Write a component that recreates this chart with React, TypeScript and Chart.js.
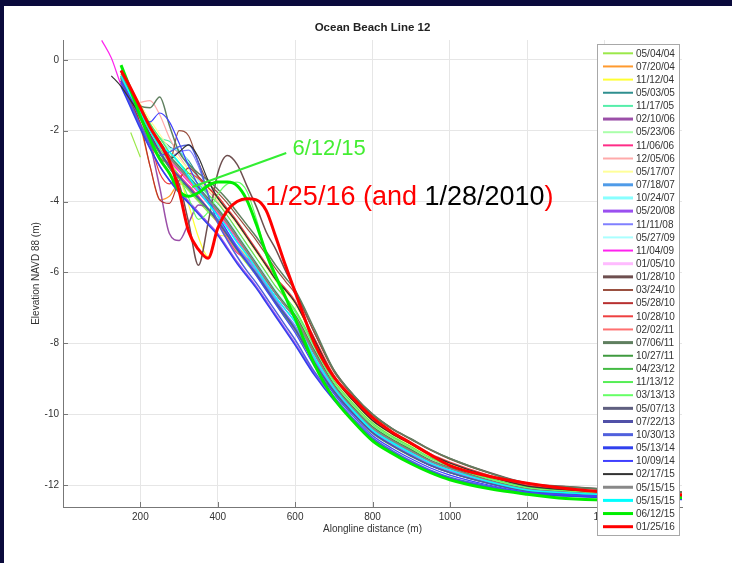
import React, { useEffect, useRef } from "react";
import { Chart, registerables } from "chart.js";
Chart.register(...registerables);

// ---------- data ----------
const distance = [100, 125, 150, 175, 200, 225, 250, 275, 300, 325, 350, 375, 400, 425, 450, 475, 500, 525, 550, 575, 600, 650, 700, 750, 800, 850, 900, 950, 1000, 1100, 1200, 1300, 1400, 1500, 1600];

const surveyDates = ["05/04/04", "07/20/04", "11/12/04", "05/03/05", "11/17/05", "02/10/06", "05/23/06", "11/06/06", "12/05/06", "05/17/07", "07/18/07", "10/24/07", "05/20/08", "11/11/08", "05/27/09", "11/04/09", "01/05/10", "01/28/10", "03/24/10", "05/28/10", "10/28/10", "02/02/11", "07/06/11", "10/27/11", "04/23/12", "11/13/12", "03/13/13", "05/07/13", "07/22/13", "10/30/13", "05/13/14", "10/09/14", "02/17/15", "05/15/15", "05/15/15", "06/12/15", "01/25/16"];

const e050404 = [null, null, null, -2.05, -2.75, null, null, null, -3.4, -3.7, -4.0, -4.3, -4.6, -5.0, -5.4, -5.75, -6.1, -6.5, -6.9, -7.3, -7.65, -8.6, -9.4, -10.0, -10.55, -10.9, -11.2, -11.45, -11.65, -11.95, -12.18, -12.26, -12.3, -12.34, -12.36];
const e072004 = [null, null, -0.6, -1.2, -1.9, -3.0, -3.95, -3.85, -3.5, -3.55, -3.9, -4.2, -4.5, -4.9, -5.3, -5.65, -6.0, -6.4, -6.8, -7.2, -7.55, -8.5, -9.3, -9.95, -10.5, -10.85, -11.15, -11.42, -11.62, -11.93, -12.15, -12.24, -12.29, -12.33, -12.35];
const e111204 = [null, null, -0.45, -0.95, -1.45, -1.95, -2.4, -2.85, -3.3, -4.1, -5.0, -5.55, -4.95, -5.0, -5.25, -5.55, -5.85, -6.2, -6.55, -6.9, -7.2, -8.1, -9.0, -9.65, -10.2, -10.58, -10.88, -11.17, -11.4, -11.76, -12.03, -12.13, -12.19, -12.24, -12.27];
const e050305 = [null, null, -0.5, -1.0, -1.5, -1.9, -2.2, -2.45, -2.6, -2.85, -3.3, -3.8, -4.2, -4.55, -4.95, -5.35, -5.75, -6.15, -6.55, -6.9, -7.25, -8.25, -9.15, -9.8, -10.35, -10.7, -11.0, -11.3, -11.5, -11.85, -12.1, -12.2, -12.25, -12.3, -12.32];
const e111705 = [null, null, -0.4, -0.9, -1.35, -1.8, -2.2, -2.3, -2.6, -3.0, -3.3, -3.6, -3.9, -4.25, -4.6, -5.0, -5.4, -5.8, -6.2, -6.5, -6.85, -7.9, -8.95, -9.62, -10.18, -10.55, -10.85, -11.15, -11.38, -11.75, -12.03, -12.13, -12.19, -12.24, -12.27];
const e021006 = [null, null, -0.6, -1.2, -1.8, -2.4, -3.6, -4.9, -5.1, -4.6, -4.1, -4.2, -4.55, -4.95, -5.35, -5.7, -6.05, -6.45, -6.85, -7.25, -7.6, -8.55, -9.35, -9.98, -10.52, -10.88, -11.18, -11.45, -11.65, -11.95, -12.17, -12.25, -12.3, -12.34, -12.36];
const e052306 = [null, null, -0.45, -0.95, -1.45, -1.95, -2.35, -2.75, -3.05, -3.35, -3.65, -3.95, -4.25, -4.6, -5.0, -5.4, -5.8, -6.2, -6.6, -6.95, -7.3, -8.3, -9.2, -9.85, -10.4, -10.75, -11.05, -11.33, -11.53, -11.88, -12.12, -12.21, -12.26, -12.31, -12.33];
const e110606 = [null, null, -0.55, -1.1, -1.65, -2.2, -2.6, -2.95, -3.25, -3.55, -3.85, -4.2, -4.6, -5.05, -5.45, -5.6, -5.9, -6.4, -6.8, -7.2, -7.55, -8.5, -9.3, -9.95, -10.5, -10.86, -11.16, -11.43, -11.63, -11.94, -12.16, -12.24, -12.29, -12.33, -12.35];
const e120506 = [null, null, null, null, -1.2, -1.15, -1.55, -2.2, -2.7, -3.1, -3.4, -3.7, -4.0, -4.4, -4.8, -5.2, -5.6, -6.0, -6.4, -6.75, -7.1, -8.1, -9.05, -9.72, -10.28, -10.64, -10.95, -11.25, -11.46, -11.82, -12.07, -12.17, -12.23, -12.28, -12.3];
const e051707 = [null, null, -0.35, -0.8, -1.25, -1.7, -2.1, -2.5, -2.8, -3.1, -3.4, -3.65, -3.95, -4.3, -4.65, -5.05, -5.45, -5.85, -6.25, -6.55, -6.9, -7.95, -8.98, -9.65, -10.2, -10.57, -10.87, -11.17, -11.4, -11.77, -12.04, -12.14, -12.2, -12.25, -12.28];
const e071807 = [null, null, -0.5, -1.05, -1.6, -2.15, -2.6, -3.0, -3.3, -3.6, -3.9, -4.2, -4.5, -4.9, -5.3, -5.65, -6.0, -6.4, -6.8, -7.2, -7.55, -8.5, -9.3, -9.95, -10.5, -10.86, -11.16, -11.43, -11.63, -11.94, -12.16, -12.24, -12.29, -12.33, -12.35];
const e102407 = [null, null, -0.4, -0.9, -1.4, -1.85, -2.2, -2.5, -2.55, -2.9, -3.4, -3.85, -4.2, -4.55, -4.95, -5.35, -5.75, -6.15, -6.55, -6.9, -7.2, -8.2, -9.15, -9.8, -10.35, -10.7, -11.0, -11.3, -11.5, -11.85, -12.1, -12.2, -12.25, -12.3, -12.32];
const e052008 = [null, null, -0.7, -1.3, -1.9, -2.5, -3.0, -3.4, -3.7, -4.0, -4.3, -4.6, -4.9, -5.3, -5.7, -6.05, -6.4, -6.8, -7.2, -7.6, -8.0, -8.85, -9.55, -10.15, -10.7, -11.05, -11.35, -11.6, -11.8, -12.05, -12.24, -12.3, -12.35, -12.38, -12.4];
const e111108 = [null, null, -0.55, -1.1, -1.65, -2.15, -2.55, -2.75, -2.6, -2.55, -3.0, -3.8, -4.4, -4.85, -5.25, -5.6, -5.95, -6.35, -6.75, -7.15, -7.5, -8.45, -9.28, -9.92, -10.46, -10.83, -11.13, -11.4, -11.6, -11.92, -12.15, -12.23, -12.28, -12.32, -12.34];
const e052709 = [null, null, -0.4, -0.9, -1.4, -1.9, -2.3, -2.65, -2.95, -3.25, -3.55, -3.85, -4.15, -4.5, -4.9, -5.3, -5.7, -6.1, -6.5, -6.85, -7.15, -8.15, -9.1, -9.76, -10.32, -10.68, -10.98, -11.28, -11.48, -11.84, -12.09, -12.19, -12.24, -12.29, -12.31];
const e110409 = [0.55, 0.05, -0.7, -1.15, -1.6, -2.1, -2.5, -2.85, -3.15, -3.45, -3.75, -4.05, -4.35, -4.7, -5.1, -5.5, -5.9, -6.3, -6.7, -7.05, -7.4, -8.4, -9.25, -9.9, -10.45, -10.8, -11.1, -11.38, -11.58, -11.9, -12.14, -12.22, -12.24, -12.3, -12.33];
const e010510 = [null, null, -0.45, -0.95, -1.45, -1.9, -2.3, -2.7, -3.0, -3.3, -3.6, -3.9, -4.2, -4.55, -4.95, -5.35, -5.75, -6.15, -6.55, -6.9, -7.2, -8.2, -9.15, -9.8, -10.35, -10.7, -11.0, -11.3, -11.5, -11.85, -12.1, -12.2, -12.25, -12.3, -12.32];
const e012810 = [null, null, -0.6, -1.1, -1.6, -2.1, -2.6, -3.05, -3.5, -4.6, -5.8, -4.6, -3.2, -2.7, -2.95, -3.55, -4.15, -4.85, -5.35, -5.95, -6.5, -7.7, -8.75, -9.45, -10.0, -10.4, -10.7, -11.0, -11.25, -11.64, -11.95, -12.04, -12.11, -12.17, -12.2];
const e032410 = [null, null, -0.5, -1.0, -1.6, -2.2, -2.75, -2.9, -2.0, -2.15, -2.9, -3.45, -3.75, -4.05, -4.4, -4.75, -5.1, -5.5, -5.9, -6.25, -6.6, -7.7, -8.8, -9.48, -10.03, -10.42, -10.72, -11.02, -11.27, -11.66, -11.97, -12.06, -12.13, -12.18, -12.21];
const e052810 = [null, null, -0.6, -1.2, -1.8, -3.0, -3.95, -4.05, -3.4, -3.05, -3.3, -3.6, -3.9, -4.25, -4.6, -5.0, -5.4, -5.8, -6.2, -6.5, -6.85, -7.9, -8.95, -9.62, -10.18, -10.55, -10.85, -11.15, -11.38, -11.75, -12.03, -12.13, -12.19, -12.24, -12.27];
const e102810 = [null, null, -0.45, -1.0, -1.6, -2.3, -3.2, -3.5, -3.3, -3.2, -3.35, -3.6, -3.85, -4.2, -4.55, -4.95, -5.35, -5.75, -6.15, -6.45, -6.8, -7.85, -8.9, -9.58, -10.14, -10.52, -10.82, -11.12, -11.35, -11.72, -12.01, -12.11, -12.17, -12.22, -12.25];
const e020211 = [null, null, -0.4, -0.95, -1.5, -2.0, -2.4, -2.8, -3.1, -3.4, -3.7, -4.0, -4.3, -4.65, -5.05, -5.45, -5.85, -6.25, -6.6, -6.95, -7.25, -8.25, -9.18, -9.83, -10.38, -10.72, -11.02, -11.32, -11.52, -11.87, -12.11, -12.21, -12.26, -12.31, -12.33];
const e070611 = [null, null, -0.5, -0.9, -1.3, -1.35, -1.05, -1.85, -2.6, -2.95, -3.2, -3.4, -3.65, -3.95, -4.3, -4.65, -5.0, -5.4, -5.8, -6.15, -6.5, -7.6, -8.75, -9.45, -10.0, -10.4, -10.7, -11.0, -11.25, -11.65, -11.96, -12.05, -12.12, -12.18, -12.2];
const e102711 = [null, null, -0.35, -0.9, -1.4, -1.9, -2.3, -2.7, -3.0, -3.3, -3.6, -3.9, -4.2, -4.55, -4.95, -5.35, -5.75, -6.15, -6.55, -6.9, -7.2, -8.2, -9.15, -9.8, -10.35, -10.7, -11.0, -11.3, -11.5, -11.85, -12.1, -12.2, -12.25, -12.3, -12.32];
const e042312 = [null, null, -0.5, -1.1, -1.65, -2.2, -2.65, -3.05, -3.35, -3.65, -3.95, -4.25, -4.55, -4.95, -5.35, -5.7, -6.05, -6.45, -6.85, -7.25, -7.6, -8.55, -9.35, -9.98, -10.52, -10.88, -11.18, -11.45, -11.65, -11.95, -12.17, -12.25, -12.3, -12.34, -12.36];
const e111312 = [null, null, -0.3, -0.8, -1.3, -1.8, -2.2, -2.6, -2.9, -3.2, -3.5, -3.8, -4.05, -4.4, -4.8, -5.2, -5.6, -6.0, -6.4, -6.7, -7.05, -8.05, -9.05, -9.7, -10.25, -10.62, -10.92, -11.22, -11.44, -11.8, -12.06, -12.16, -12.22, -12.27, -12.29];
const e031313 = [null, null, -0.3, -0.9, -1.5, -2.0, -2.5, -2.9, -3.3, -3.9, -4.5, -4.3, -3.8, -3.5, -3.45, -3.7, -4.5, -5.5, -6.2, -6.7, -7.1, -8.1, -9.1, -9.75, -10.3, -10.66, -10.96, -11.26, -11.47, -11.83, -12.08, -12.18, -12.24, -12.29, -12.31];
const e050713 = [null, null, -0.45, -0.95, -1.45, -1.95, -2.35, -2.75, -3.05, -3.35, -3.65, -3.95, -4.25, -4.6, -5.0, -5.4, -5.8, -6.2, -6.6, -6.95, -7.3, -8.3, -9.2, -9.85, -10.4, -10.75, -11.05, -11.33, -11.53, -11.88, -12.12, -12.21, -12.26, -12.31, -12.33];
const e072213 = [null, null, -0.55, -1.1, -1.65, -2.15, -2.6, -3.0, -3.3, -3.6, -3.9, -4.2, -4.55, -4.95, -5.35, -5.7, -6.05, -6.45, -6.85, -7.2, -7.6, -8.55, -9.35, -9.98, -10.52, -10.88, -11.18, -11.45, -11.65, -11.95, -12.17, -12.25, -12.3, -12.34, -12.36];
const e103013 = [null, null, -0.65, -1.25, -1.85, -2.4, -2.7, -2.6, -2.45, -2.4, -2.9, -3.8, -4.6, -5.1, -5.55, -5.95, -6.3, -6.7, -7.1, -7.5, -7.9, -8.8, -9.5, -10.12, -10.66, -11.02, -11.32, -11.58, -11.78, -12.03, -12.22, -12.29, -12.34, -12.37, -12.39];
const e051314 = [null, null, -0.75, -1.35, -1.95, -2.5, -3.0, -3.4, -3.75, -4.05, -4.35, -4.65, -4.95, -5.35, -5.75, -6.1, -6.45, -6.85, -7.25, -7.65, -8.05, -8.9, -9.6, -10.18, -10.72, -11.07, -11.37, -11.62, -11.82, -12.07, -12.25, -12.31, -12.36, -12.39, -12.41];
const e100914 = [null, null, -0.6, -1.1, -1.6, -1.75, -1.5, -1.75, -2.35, -3.0, -3.55, -4.0, -4.4, -4.85, -5.3, -5.7, -6.1, -6.5, -6.9, -7.3, -7.7, -8.65, -9.42, -10.05, -10.6, -10.96, -11.26, -11.52, -11.72, -12.0, -12.2, -12.27, -12.32, -12.36, -12.38];
const e021715 = [null, -0.45, -0.75, -1.15, -1.55, -1.95, -2.35, -2.8, -2.6, -2.4, -2.75, -3.4, -3.9, -4.25, -4.6, -5.0, -5.4, -5.8, -6.2, -6.5, -6.85, -7.9, -8.95, -9.62, -10.18, -10.55, -10.85, -11.15, -11.38, -11.75, -12.03, -12.13, -12.19, -12.24, -12.27];
const e051515a = [null, null, -0.5, -1.0, -1.5, -2.0, -2.4, -2.75, -3.05, -3.35, -3.65, -3.95, -4.25, -4.6, -5.0, -5.4, -5.8, -6.2, -6.6, -6.95, -7.3, -8.3, -9.2, -9.85, -10.4, -10.75, -11.05, -11.33, -11.53, -11.88, -12.12, -12.21, -12.26, -12.31, -12.33];
const e051515b = [null, null, -0.45, -1.0, -1.5, -2.0, -2.45, -2.6, -2.9, -3.3, -3.7, -4.05, -4.4, -4.75, -5.15, -5.5, -5.9, -6.3, -6.7, -7.05, -7.4, -8.4, -9.25, -9.9, -10.45, -10.8, -11.1, -11.38, -11.58, -11.9, -12.14, -12.22, -12.27, -12.32, -12.34];
const e061215 = [null, null, -0.15, -0.85, -1.6, -2.25, -2.8, -3.2, -3.7, -3.85, -3.75, -3.55, -3.45, -3.45, -3.55, -3.95, -4.65, -5.45, -6.1, -6.7, -7.3, -8.6, -9.55, -10.2, -10.75, -11.1, -11.4, -11.65, -11.85, -12.1, -12.26, -12.38, -12.42, -12.42, -12.35];
const e012516 = [null, null, -0.3, -0.8, -1.35, -1.9, -2.35, -2.85, -3.7, -4.85, -5.35, -5.6, -4.75, -4.25, -4.0, -3.92, -3.95, -4.25, -5.0, -5.8, -6.55, -8.0, -8.95, -9.55, -10.1, -10.5, -10.82, -11.15, -11.45, -11.75, -11.95, -12.1, -12.2, -12.25, -12.28];

const elevations = [e050404, e072004, e111204, e050305, e111705, e021006, e052306, e110606, e120506, e051707, e071807, e102407, e052008, e111108, e052709, e110409, e010510, e012810, e032410, e052810, e102810, e020211, e070611, e102711, e042312, e111312, e031313, e050713, e072213, e103013, e051314, e100914, e021715, e051515a, e051515b, e061215, e012516];

const xTickValues = [200, 400, 600, 800, 1000, 1200, 1400];
const yTickValues = [-12, -10, -8, -6, -4, -2, 0];

// annotations (data coordinates)
const greenNote = "6/12/15";
const greenNoteAt = [593, -2.52];
const greenPointerFrom = [334, -3.59];
const greenPointerTo = [577, -2.63];
const redNoteParts = ["1/25/16 (and ", "1/28/2010", ")"];
const redNoteAt = [523, -3.9];

// ---------- styles ----------
const lineColors = ["#9be84a", "#ff9a2e", "#ffff33", "#2f8f8f", "#55eeaa", "#9b4fa8", "#aaffaa", "#ff2d87", "#ffaaaa", "#ffff99", "#4f9be8", "#88ffff", "#9a4ff0", "#8080ff", "#aaffff", "#ff22ee", "#ffbbff", "#6e4f4f", "#9a5040", "#b83030", "#ee4040", "#ff7070", "#5f7f5f", "#3f9a3f", "#44bb44", "#55ee55", "#66ff66", "#5f5f80", "#5050a8", "#5060dd", "#3040ee", "#4040ff", "#333333", "#888888", "#00ffff", "#00ee00", "#ff0000"];
const thickSet = new Set([5, 10, 11, 12, 16, 17, 22, 27, 28, 29, 30, 33, 34, 35, 36]);

const FONT = "'Liberation Sans', Arial, Helvetica, sans-serif";

const overlayPlugin = {
  id: "overlay",
  beforeDraw(chart: any) {
    const ctx = chart.ctx;
    ctx.save();
    ctx.fillStyle = "#0a0a3c";
    ctx.fillRect(0, 0, chart.width, chart.height);
    ctx.fillStyle = "#ffffff";
    ctx.fillRect(4, 6, chart.width - 4, chart.height - 6);
    ctx.restore();
  },
  afterDraw(chart: any) {
    const ctx = chart.ctx;
    const xs = chart.scales.x;
    const ys = chart.scales.y;
    const area = chart.chartArea;
    ctx.save();
    // inside tick marks
    ctx.strokeStyle = "#777";
    ctx.lineWidth = 1;
    xTickValues.forEach((v) => {
      const px = Math.round(xs.getPixelForValue(v)) + 0.5;
      ctx.beginPath();
      ctx.moveTo(px, area.bottom);
      ctx.lineTo(px, area.bottom - 5);
      ctx.stroke();
    });
    yTickValues.forEach((v) => {
      const py = Math.round(ys.getPixelForValue(v)) + 0.5;
      ctx.beginPath();
      ctx.moveTo(area.left, py);
      ctx.lineTo(area.left + 5, py);
      ctx.stroke();
    });
    // title
    ctx.fillStyle = "#222";
    ctx.font = `bold 11.5px ${FONT}`;
    ctx.textAlign = "center";
    ctx.textBaseline = "middle";
    ctx.fillText("Ocean Beach Line 12", (area.left + area.right) / 2, 28);
    // axis titles
    ctx.font = `10px ${FONT}`;
    ctx.fillStyle = "#333";
    ctx.fillText("Alongline distance (m)", (area.left + area.right) / 2, 529);
    ctx.save();
    ctx.translate(36, (area.top + area.bottom) / 2);
    ctx.rotate(-Math.PI / 2);
    ctx.fillText("Elevation NAVD 88 (m)", 0, 0);
    ctx.restore();

    // annotations
    ctx.strokeStyle = "#33ee33";
    ctx.lineWidth = 2;
    ctx.beginPath();
    ctx.moveTo(xs.getPixelForValue(greenPointerFrom[0]), ys.getPixelForValue(greenPointerFrom[1]));
    ctx.lineTo(xs.getPixelForValue(greenPointerTo[0]), ys.getPixelForValue(greenPointerTo[1]));
    ctx.stroke();
    ctx.textAlign = "left";
    ctx.textBaseline = "middle";
    ctx.font = `22px ${FONT}`;
    ctx.fillStyle = "#44ee33";
    ctx.fillText(greenNote, xs.getPixelForValue(greenNoteAt[0]), ys.getPixelForValue(greenNoteAt[1]));
    ctx.font = `27px ${FONT}`;
    let tx = xs.getPixelForValue(redNoteAt[0]);
    const ty = ys.getPixelForValue(redNoteAt[1]);
    const partColors = ["#ff0000", "#000000", "#ff0000"];
    redNoteParts.forEach((p, k) => {
      ctx.fillStyle = partColors[k];
      ctx.fillText(p, tx, ty);
      tx += ctx.measureText(p).width;
    });

    // legend
    const lx = 597, ly = 44, lw = 82, lh = 491;
    ctx.fillStyle = "#ffffff";
    ctx.fillRect(lx, ly, lw, lh);
    ctx.strokeStyle = "#a8a8a8";
    ctx.lineWidth = 1;
    ctx.strokeRect(lx + 0.5, ly + 0.5, lw, lh);
    ctx.font = `10px ${FONT}`;
    ctx.textAlign = "left";
    ctx.textBaseline = "middle";
    surveyDates.forEach((d, i) => {
      const y = 53.3 + i * 13.15;
      ctx.strokeStyle = lineColors[i];
      ctx.lineWidth = thickSet.has(i) ? 3 : 2;
      ctx.beginPath();
      ctx.moveTo(603, y);
      ctx.lineTo(633, y);
      ctx.stroke();
      ctx.fillStyle = "#333";
      ctx.fillText(d, 636, y + 0.5);
    });
    ctx.restore();
  },
};

export default function App() {
  const ref = useRef<HTMLCanvasElement | null>(null);
  useEffect(() => {
    document.body.style.margin = "0";
    if (!ref.current) return;
    const n = surveyDates.length;
    const datasets = surveyDates.map((d, i) => ({
      label: d,
      data: distance.map((x, k) => ({ x, y: elevations[i][k] })),
      borderColor: lineColors[i],
      borderWidth: i >= 35 ? 3 : thickSet.has(i) ? 1.5 : 1.2,
      pointRadius: 0,
      fill: false,
      spanGaps: false,
      cubicInterpolationMode: "monotone" as const,
      order: n - i,
    }));
    const chart = new Chart(ref.current, {
      type: "line",
      data: { datasets },
      plugins: [overlayPlugin],
      options: {
        animation: false,
        responsive: false,
        devicePixelRatio: 1,
        layout: { padding: { left: 0, top: 40, right: 50, bottom: 0 } },
        plugins: { legend: { display: false }, tooltip: { enabled: false }, title: { display: false } },
        scales: {
          x: {
            type: "linear",
            min: 0,
            max: 1600,
            afterFit: (s: any) => { s.height = 56; },
            afterBuildTicks: (s: any) => { s.ticks = xTickValues.map((v) => ({ value: v })); },
            grid: { color: "#e6e6e6", drawTicks: false },
            border: { display: true, color: "#777" },
            ticks: { padding: 4, color: "#333", font: { family: FONT, size: 10 }, maxRotation: 0, autoSkip: false, callback: (v: any) => String(v) },
          },
          y: {
            type: "linear",
            min: -12.62,
            max: 0.56,
            afterFit: (s: any) => { s.width = 63; },
            afterBuildTicks: (s: any) => { s.ticks = yTickValues.map((v) => ({ value: v })); },
            grid: { color: "#e6e6e6", drawTicks: false },
            border: { display: true, color: "#777" },
            ticks: { padding: 4, color: "#333", font: { family: FONT, size: 10 }, autoSkip: false, callback: (v: any) => String(v) },
          },
        },
      },
    });
    return () => chart.destroy();
  }, []);
  return (
    <div style={{ width: 732, height: 563 }}>
      <canvas ref={ref} width={732} height={563} style={{ display: "block", width: 732, height: 563 }} />
    </div>
  );
}
